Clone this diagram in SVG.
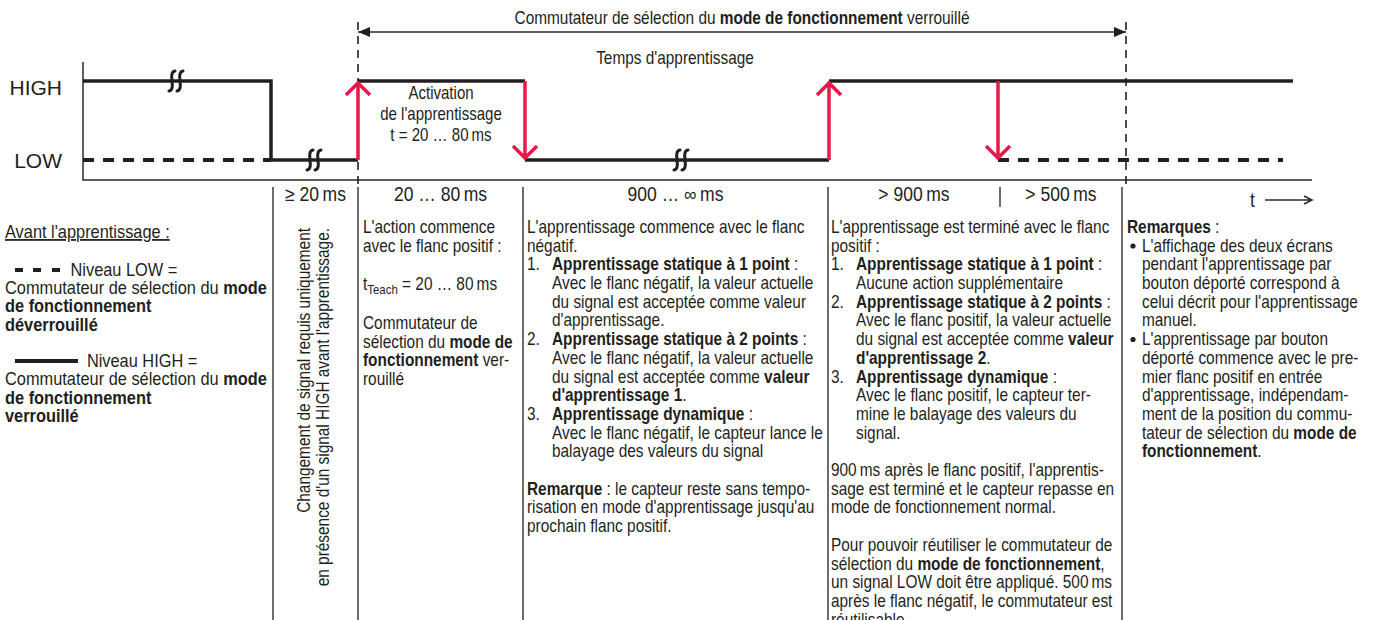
<svg xmlns="http://www.w3.org/2000/svg" width="1378" height="620" viewBox="0 0 1378 620">
<style>
.t{font-family:"Liberation Sans",Arial,sans-serif;font-size:17.5px;fill:#231f20}
.c1{font-size:18px}
.b{font-weight:bold}
.lbl{font-size:19.5px}
.hl{font-family:"Liberation Sans",Arial,sans-serif;font-size:21px;fill:#231f20}
.ax{stroke:#2b2b2b;stroke-width:1.5;fill:none}
.sig{stroke:#231f20;stroke-width:3.5;fill:none}
.dsig{stroke:#231f20;stroke-width:4;fill:none;stroke-dasharray:11 9}
.dv{stroke:#231f20;stroke-width:1.6;fill:none;stroke-dasharray:8 6}
.red{stroke:#e8184a;stroke-width:3.5;fill:none;stroke-linecap:butt}
.sep{stroke:#231f20;stroke-width:1.3}
.brk{stroke:#231f20;stroke-width:3;fill:none;stroke-linecap:round}
</style>
<defs>
<g id="squig"><path class="brk" d="M-1,-10 C-5,-9.5 -4.5,-4 -4,0 C-3.5,4 -3,9.5 -7,10"/><path class="brk" d="M7,-10 C3,-9.5 3.5,-4 4,0 C4.5,4 5,9.5 1,10"/></g>
</defs>

<g id="axes">
<path class="ax" d="M83,62 V180 H1312"/>
<path class="dv" d="M358,22 V190"/>
<path class="dv" d="M1126,22 V190"/>
</g>

<g id="signal">
<path class="dsig" d="M83,160 H271"/>
<path class="sig" d="M83,81 H271 V160 H358"/>
<path class="sig" d="M358,81 H525"/>
<path class="sig" d="M525,160 H829"/>
<path class="sig" d="M829,81 H1293"/>
<path class="dsig" d="M998,160 H1283"/>
<use href="#squig" x="176" y="81"/>
<use href="#squig" x="314" y="160"/>
<use href="#squig" x="681" y="160"/>
</g>

<g id="connectors">
<path class="red" d="M358,160 V83 M346,95 L358,83 L370,95"/>
<path class="red" d="M525,81 V158 M513,146 L525,158 L537,146"/>
<path class="red" d="M829,160 V83 M817,95 L829,83 L841,95"/>
<path class="red" d="M998,81 V158 M986,146 L998,158 L1010,146"/>
<path class="ax" d="M358,32 H1126"/>
<path d="M358,32 L370,27 L370,37 Z M1126,32 L1114,27 L1114,37 Z" fill="#231f20"/>
<path class="ax" d="M1265,200 H1312 M1304,196 L1312,200 L1304,204"/>
</g>

<g id="separators">
<path class="sep" d="M273,187 V620 M358,187 V620 M523,187 V620 M828,187 V620 M1122,187 V620 M1000,187 V207"/>
</g>

<g id="top-labels">
<text class="t" transform="translate(742,24) scale(0.88,1)" text-anchor="middle">Commutateur de sélection du <tspan class="b">mode de fonctionnement</tspan> verrouillé</text>
<text class="t" transform="translate(675,64) scale(0.88,1)" text-anchor="middle">Temps d'apprentissage</text>
<text class="hl" x="62" y="95" text-anchor="end">HIGH</text>
<text class="hl" x="62" y="168" text-anchor="end">LOW</text>
<text class="t" transform="translate(441,99) scale(0.86,1)" text-anchor="middle">Activation</text>
<text class="t" transform="translate(441,120) scale(0.86,1)" text-anchor="middle">de l'apprentissage</text>
<text class="t" transform="translate(441,141) scale(0.86,1)" text-anchor="middle">t = 20 … 80&#8201;ms</text>
</g>

<g id="durations">
<text class="t lbl" transform="translate(315.5,201) scale(0.9,1)" text-anchor="middle">≥ 20&#8201;ms</text>
<text class="t lbl" transform="translate(440.5,201) scale(0.9,1)" text-anchor="middle">20 … 80&#8201;ms</text>
<text class="t lbl" transform="translate(675.5,201) scale(0.9,1)" text-anchor="middle">900 … ∞&#8201;ms</text>
<text class="t lbl" transform="translate(914,201) scale(0.9,1)" text-anchor="middle">&gt; 900&#8201;ms</text>
<text class="t lbl" transform="translate(1061,201) scale(0.9,1)" text-anchor="middle">&gt; 500&#8201;ms</text>
<text class="t lbl" transform="translate(1250,207) scale(0.9,1)">t</text>
</g>

<g id="col1-legend">
<path d="M15,270 H23 M33,270 H41 M52,270 H60" stroke="#231f20" stroke-width="4"/>
<path d="M15,361 H78" stroke="#231f20" stroke-width="4"/>
</g>
<g id="col1" transform="translate(5,0) scale(0.91,1)">
<text class="t c1" x="0" y="238" text-decoration="underline">Avant l'apprentissage :</text>
<text class="t c1" x="72" y="276">Niveau LOW =</text>
<text class="t c1" x="0" y="294.3">Commutateur de sélection du <tspan class="b">mode</tspan></text>
<text class="t c1 b" x="0" y="312.5">de fonctionnement</text>
<text class="t c1 b" x="0" y="330.8">déverrouillé</text>
<text class="t c1" x="90" y="367.3">Niveau HIGH =</text>
<text class="t c1" x="0" y="385.5">Commutateur de sélection du <tspan class="b">mode</tspan></text>
<text class="t c1 b" x="0" y="403.8">de fonctionnement</text>
<text class="t c1 b" x="0" y="422">verrouillé</text>
</g>

<g id="col-rotated">
<text class="t" transform="translate(310,228) rotate(-90) scale(0.88,1)" text-anchor="end">Changement de signal requis uniquement</text>
<text class="t" transform="translate(328.5,228) rotate(-90) scale(0.88,1)" text-anchor="end">en présence d'un signal HIGH avant l'apprentissage.</text>
</g>

<g id="col2" transform="translate(363,0) scale(0.88,1)">
<text class="t" x="0" y="233">L'action commence</text>
<text class="t" x="0" y="251.7">avec le flanc positif :</text>
<text class="t" x="0" y="290">t<tspan font-size="13" dy="4">Teach</tspan><tspan dy="-4"> = 20 … 80&#8201;ms</tspan></text>
<text class="t" x="0" y="329">Commutateur de</text>
<text class="t" x="0" y="347.7">sélection du <tspan class="b">mode de</tspan></text>
<text class="t" x="0" y="366.4"><tspan class="b">fonctionnement</tspan> ver-</text>
<text class="t" x="0" y="385.1">rouillé</text>
</g>

<g id="col3" transform="translate(527,0) scale(0.88,1)">
<text class="t" x="0" y="233">L'apprentissage commence avec le flanc</text>
<text class="t" x="0" y="251.7">négatif.</text>
<text class="t" x="0" y="270.4">1.</text><text class="t" x="28.4" y="270.4"><tspan class="b">Apprentissage statique à 1 point</tspan> :</text>
<text class="t" x="28.4" y="289.1">Avec le flanc négatif, la valeur actuelle</text>
<text class="t" x="28.4" y="307.8">du signal est acceptée comme valeur</text>
<text class="t" x="28.4" y="326.5">d'apprentissage.</text>
<text class="t" x="0" y="345.2">2.</text><text class="t" x="28.4" y="345.2"><tspan class="b">Apprentissage statique à 2 points</tspan> :</text>
<text class="t" x="28.4" y="363.9">Avec le flanc négatif, la valeur actuelle</text>
<text class="t" x="28.4" y="382.6">du signal est acceptée comme <tspan class="b">valeur</tspan></text>
<text class="t" x="28.4" y="401.3"><tspan class="b">d'apprentissage 1</tspan>.</text>
<text class="t" x="0" y="420">3.</text><text class="t" x="28.4" y="420"><tspan class="b">Apprentissage dynamique</tspan> :</text>
<text class="t" x="28.4" y="438.7">Avec le flanc négatif, le capteur lance le</text>
<text class="t" x="28.4" y="457.4">balayage des valeurs du signal</text>
<text class="t" x="0" y="494.8"><tspan class="b">Remarque</tspan> : le capteur reste sans tempo-</text>
<text class="t" x="0" y="513.5">risation en mode d'apprentissage jusqu'au</text>
<text class="t" x="0" y="532.2">prochain flanc positif.</text>
</g>

<g id="col4" transform="translate(831,0) scale(0.88,1)">
<text class="t" x="0" y="233">L'apprentissage est terminé avec le flanc</text>
<text class="t" x="0" y="251.7">positif :</text>
<text class="t" x="0" y="270.4">1.</text><text class="t" x="28.4" y="270.4"><tspan class="b">Apprentissage statique à 1 point</tspan> :</text>
<text class="t" x="28.4" y="289.1">Aucune action supplémentaire</text>
<text class="t" x="0" y="307.8">2.</text><text class="t" x="28.4" y="307.8"><tspan class="b">Apprentissage statique à 2 points</tspan> :</text>
<text class="t" x="28.4" y="326.5">Avec le flanc positif, la valeur actuelle</text>
<text class="t" x="28.4" y="345.2">du signal est acceptée comme <tspan class="b">valeur</tspan></text>
<text class="t" x="28.4" y="363.9"><tspan class="b">d'apprentissage 2</tspan>.</text>
<text class="t" x="0" y="382.6">3.</text><text class="t" x="28.4" y="382.6"><tspan class="b">Apprentissage dynamique</tspan> :</text>
<text class="t" x="28.4" y="401.3">Avec le flanc positif, le capteur ter-</text>
<text class="t" x="28.4" y="420">mine le balayage des valeurs du</text>
<text class="t" x="28.4" y="438.7">signal.</text>
<text class="t" x="0" y="476.1">900&#8201;ms après le flanc positif, l'apprentis-</text>
<text class="t" x="0" y="494.8">sage est terminé et le capteur repasse en</text>
<text class="t" x="0" y="513.5">mode de fonctionnement normal.</text>
<text class="t" x="0" y="550.9">Pour pouvoir réutiliser le commutateur de</text>
<text class="t" x="0" y="569.6">sélection du <tspan class="b">mode de fonctionnement</tspan>,</text>
<text class="t" x="0" y="588.3">un signal LOW doit être appliqué. 500&#8201;ms</text>
<text class="t" x="0" y="607">après le flanc négatif, le commutateur est</text>
<text class="t" x="0" y="625.7">réutilisable.</text>
</g>

<g id="col5-bullets">
<circle cx="1133" cy="246" r="2.6" fill="#231f20"/>
<circle cx="1133" cy="339.5" r="2.6" fill="#231f20"/>
</g>
<g id="col5" transform="translate(1127,0) scale(0.88,1)">
<text class="t" x="0" y="233"><tspan class="b">Remarques</tspan> :</text>
<text class="t" x="17" y="251.7">L'affichage des deux écrans</text>
<text class="t" x="17" y="270.4">pendant l'apprentissage par</text>
<text class="t" x="17" y="289.1">bouton déporté correspond à</text>
<text class="t" x="17" y="307.8">celui décrit pour l'apprentissage</text>
<text class="t" x="17" y="326.5">manuel.</text>
<text class="t" x="17" y="345.2">L'apprentissage par bouton</text>
<text class="t" x="17" y="363.9">déporté commence avec le pre-</text>
<text class="t" x="17" y="382.6">mier flanc positif en entrée</text>
<text class="t" x="17" y="401.3">d'apprentissage, indépendam-</text>
<text class="t" x="17" y="420">ment de la position du commu-</text>
<text class="t" x="17" y="438.7">tateur de sélection du <tspan class="b">mode de</tspan></text>
<text class="t" x="17" y="457.4"><tspan class="b">fonctionnement</tspan>.</text>
</g>
</svg>
